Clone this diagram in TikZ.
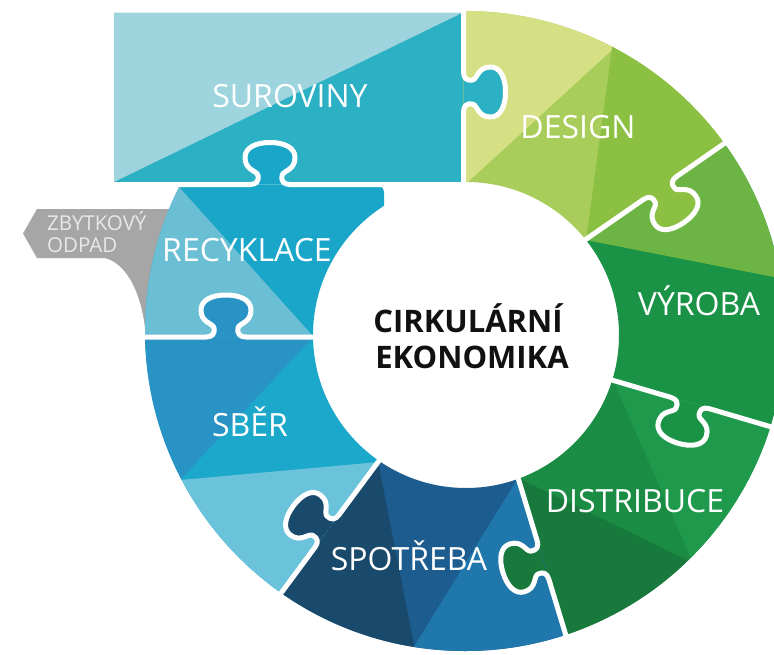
\documentclass[tikz,border=0pt]{standalone}
\usepackage{fontspec}
\setmainfont{Open Sans}
\definecolor{surL}{HTML}{9DD4DD}
\definecolor{surD}{HTML}{2CB0C4}
\definecolor{desL}{HTML}{D5E084}
\definecolor{desM}{HTML}{A9CD5B}
\definecolor{desR}{HTML}{8CC043}
\definecolor{vyrL}{HTML}{6CB544}
\definecolor{vyrD}{HTML}{1A9346}
\definecolor{disR}{HTML}{1F9A4D}
\definecolor{disM}{HTML}{1A8C44}
\definecolor{disD}{HTML}{177A3C}
\definecolor{spoN}{HTML}{19496B}
\definecolor{spoM}{HTML}{1D5C8F}
\definecolor{spoR}{HTML}{1F77AB}
\definecolor{sbeD}{HTML}{2893C4}
\definecolor{sbeM}{HTML}{1BA8CB}
\definecolor{sbeL}{HTML}{6BC2DB}
\definecolor{recL}{HTML}{6BBFD5}
\definecolor{recD}{HTML}{1AA6C8}
\definecolor{grayc}{HTML}{A6A6A6}
\definecolor{graytxt}{HTML}{E8E8E8}
\definecolor{ctrtxt}{HTML}{111111}
\tikzset{
  wline/.style={draw=white, line width=5pt, line join=round},
  lbl/.style={text=white, font=\fontsize{32}{38}\selectfont, inner sep=0pt, anchor=base},
  ctr/.style={text=ctrtxt, font=\bfseries\fontsize{31}{36}\selectfont, inner sep=0pt, anchor=base},
  gtxt/.style={text=graytxt, font=\fontsize{20.5}{24}\selectfont, inner sep=0pt, anchor=base west},
}
\def\knobcurve{.. controls (-14,0) and (-11,-3) .. (-12,-9) .. controls (-13,-14) and (-25,-14) .. (-25,-27) .. controls (-25,-37) and (-14,-42) .. (0,-42) .. controls (14,-42) and (25,-37) .. (25,-27) .. controls (25,-14) and (13,-14) .. (12,-9) .. controls (11,-3) and (14,0) .. (20,0)}
\begin{document}
\begin{tikzpicture}[x=1pt,y=-1pt]
\useasboundingbox (0,0) rectangle (774,654);
\fill[white] (0,0) rectangle (774,654);

% gray arrow
\fill[grayc] (175,209) -- (37,209) -- (23,233.5) -- (37,258) -- (105,258)
  .. controls (128,264) and (143,296) .. (146,338) -- (220,338) -- (220,209) -- cycle;

% SUROVINY rectangle
\fill[surD] (114,12.5) rectangle (466,182);
\fill[surL] (114,12.5) -- (463,12.5) -- (114,182) -- cycle;

% ring pieces
\begin{scope}[even odd rule]
\clip (465,331) circle[radius=320] (466,335) circle[radius=153];
% DESIGN
\begin{scope}
\clip (463.5,335) -- (463.5,-300) -- (1079,-300) -- (1079,-102) -- (537,274) -- cycle;
\fill[desM] (0,-400) rectangle (1400,1100);
\fill[desL] (440,-50) -- (440,207.7) -- (721,-50) -- cycle;
\fill[desR] (625.3,-50) -- (577.9,300) -- (900,300) -- (900,-50) -- cycle;
\end{scope}
% VYROBA
\begin{scope}
\clip (537,274) -- (1079,-102) -- (1300,-102) -- (1300,549) -- (1188,549) -- (536,357) -- cycle;
\fill[vyrD] (0,-400) rectangle (1400,1100);
\fill[vyrL] (560,234.9) -- (900,301.9) -- (900,-50) -- (560,-50) -- cycle;
\end{scope}
% DISTRIBUCE
\begin{scope}
\clip (536,357) -- (1188,549) -- (1188,1052) -- (693,1052) -- (489,382) -- cycle;
\fill[disM] (0,-400) rectangle (1400,1100);
\fill[disR] (600,350) -- (853,929) -- (1300,929) -- (1300,350) -- cycle;
\fill[disD] (480,459.5) -- (1000,712) -- (1000,1100) -- (480,1100) -- cycle;
\end{scope}
% SPOTREBA
\begin{scope}
\clip (489,382) -- (693,1052) -- (21.6,1052) -- (21.6,944) -- (437.4,381.6) -- cycle;
\fill[spoM] (0,-400) rectangle (1400,1100);
\fill[spoN] (370,421) -- (430,726) -- (0,726) -- (0,421) -- cycle;
\fill[spoR] (536.5,448) -- (369.9,718) -- (900,718) -- (900,448) -- cycle;
\end{scope}
% SBER
\begin{scope}
\clip (466,337) -- (-300,337) -- (-300,944) -- (21.6,944) -- (437.4,381.6) -- cycle;
\fill[sbeM] (-400,-400) rectangle (1400,1100);
\fill[sbeD] (320,329.5) -- (150.2,512) -- (-100,512) -- (-100,329.5) -- cycle;
\fill[sbeL] (100,487.3) -- (500,451) -- (500,900) -- (100,900) -- cycle;
\end{scope}
% RECYKLACE
\begin{scope}[rounded corners=8pt]
\clip (100,184.5) -- (384,184.5) -- (384,337) -- (100,337) -- cycle;
\fill[recD, sharp corners] (0,0) rectangle (500,400);
\fill[recL, sharp corners] (160.2,166) -- (335.3,361) -- (100,361) -- (100,166) -- cycle;
\end{scope}
\end{scope}

% knobs and white separators
% K1 RECYKLACE -> SUROVINY
\begin{scope}[shift={(270,184.5)}]
\fill[recD] (-20,0) \knobcurve -- cycle;
\draw[wline] (-170,0) -- (-20,0) \knobcurve -- (130,0);
\end{scope}
% K2 SUROVINY -> DESIGN
\begin{scope}[shift={(463.5,92)}, rotate=-90]
\fill[surD] (-20,0) \knobcurve -- cycle;
\draw[wline] (-92,0) -- (-20,0) \knobcurve -- (98,0);
\end{scope}
% K3 DESIGN -> VYROBA
\begin{scope}[shift={(660,188)}, rotate=-145.3]
\fill[desR] (-20,0) \knobcurve -- cycle;
\draw[wline] (-92,0) -- (-20,0) \knobcurve -- (100,0);
\end{scope}
% K4 VYROBA -> DISTRIBUCE
\begin{scope}[shift={(690,403)}, rotate=-196.4]
\fill[vyrD] (-20,0) \knobcurve -- cycle;
\draw[wline] (-100,0) -- (-20,0) \knobcurve -- (90,0);
\end{scope}
% K5 DISTRIBUCE -> SPOTREBA
\begin{scope}[shift={(543,560)}, rotate=-253.1]
\fill[disD] (-20,0) \knobcurve -- cycle;
\draw[wline] (-100,0) -- (-20,0) \knobcurve -- (95,0);
\end{scope}
% K6 SPOTREBA -> SBER
\begin{scope}[shift={(327,531)}, rotate=-306.5]
\fill[spoN] (-20,0) \knobcurve -- cycle;
\draw[wline] (-100,0) -- (-20,0) \knobcurve -- (95,0);
\end{scope}
% K7 SBER -> RECYKLACE
\begin{scope}[shift={(226,337)}]
\fill[sbeD] (-20,0) \knobcurve -- cycle;
\draw[wline] (-88,0) -- (-20,0) \knobcurve -- (100,0);
\end{scope}

% labels
\node[lbl] (sur) at (290,107) {SUROVINY};
\node[lbl] (des) at (578,138.5) {DESIGN};
\node[lbl] (vyr) at (699,315) {VÝROBA};
\node[lbl] (dis) at (635,512) {DISTRIBUCE};
\node[lbl] (spo) at (409,570) {SPOTŘEBA};
\node[lbl] (sbe) at (250,436) {SBĚR};
\node[lbl] (rec) at (247,261) {RECYKLACE};
\node[gtxt] (zb1) at (47,230) {ZBYTKOVÝ};
\node[gtxt] (zb2) at (47,252) {ODPAD};
\node[ctr] (ck1) at (468,332) {CIRKULÁRNÍ};
\node[ctr] (ck2) at (472,368) {EKONOMIKA};
\end{tikzpicture}
\end{document}
